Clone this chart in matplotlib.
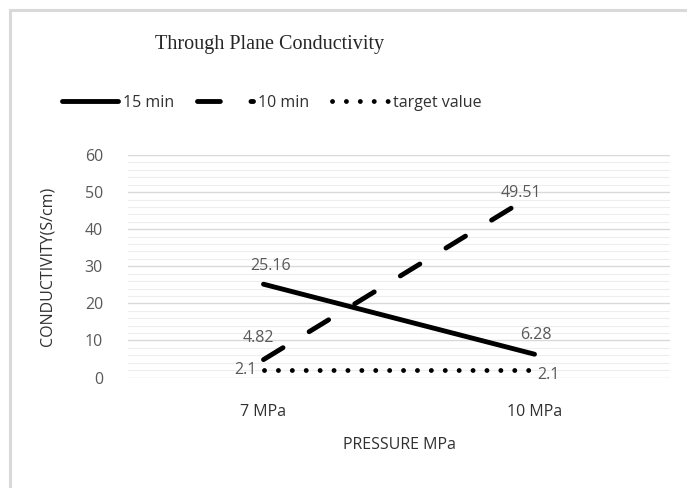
import matplotlib
matplotlib.use("Agg")
import matplotlib.pyplot as plt
from matplotlib.patches import Rectangle
import numpy as np

# Data
categories = ["7 MPa", "10 MPa"]
series_15 = [25.16, 6.28]
series_10 = [4.82, 49.51]
target = [2.1, 2.1]
series_names = ["15 min", "10 min", "target value"]

text_grey = '#595959'
text_dark = '#303030'
line_col = '#000000'

plt.rcParams.update({
    'font.family': ['Open Sans', 'DejaVu Sans'],
    'font.size': 10,
})

fig = plt.figure(figsize=(6.87, 4.88), dpi=100)
W, H = 687, 488
ax = fig.add_axes([128 / W, 1 - 377.5 / H, (670 - 128) / W, (377.5 - 155) / H])

# outer chart border
fig.patches.append(Rectangle((10 / W, -0.1), 1.2, 1 - 10 / H + 0.1, transform=fig.transFigure,
                             fill=False, edgecolor='#d9d9d9', linewidth=2.2))

xs = np.arange(len(categories))
lw = 3.5
l1, = ax.plot(xs, series_15, color=line_col, linewidth=lw, solid_capstyle='round',
              label=series_names[0], zorder=4)
l2, = ax.plot(xs, series_10, color=line_col, linewidth=lw, dash_capstyle='round',
              linestyle=(0, (4.7, 6.3)), label=series_names[1], zorder=4)
l3, = ax.plot(xs, target, color=line_col, linewidth=lw, dash_capstyle='round',
              linestyle=(0, (0.01, 2.85)), label=series_names[2], zorder=4)

ax.set_xlim(-0.5, 1.5)
ax.set_ylim(0, 60)
ax.set_yticks(np.arange(0, 61, 10))
ax.set_yticks(np.arange(0, 61, 2), minor=True)
ax.grid(True, which='major', axis='y', color='#d9d9d9', linewidth=1.0)
ax.grid(True, which='minor', axis='y', color='#eeeeee', linewidth=0.8)
ax.set_axisbelow(True)
ax.set_xticks(xs)
ax.set_xticklabels(categories)
for s in ax.spines.values():
    s.set_visible(False)
ax.tick_params(axis='both', which='both', length=0, colors=text_grey, labelsize=11.5)
ax.tick_params(axis='y', pad=18)
ax.tick_params(axis='x', pad=19, labelcolor=text_dark)

# data labels
lab_kw = dict(fontsize=11.5, color=text_grey, zorder=5)
ax.annotate(f"{series_15[0]:.2f}", (xs[0], series_15[0]), xytext=(5, 7),
            textcoords='offset points', ha='center', va='bottom', **lab_kw)
ax.annotate(f"{series_15[1]:.2f}", (xs[1], series_15[1]), xytext=(1, 8),
            textcoords='offset points', ha='center', va='bottom', **lab_kw)
ax.annotate(f"{series_10[0]:.2f}", (xs[0], series_10[0]), xytext=(-4, 10),
            textcoords='offset points', ha='center', va='bottom', **lab_kw)
ax.annotate(f"{series_10[1]:.2f}", (xs[1], series_10[1]), xytext=(-10, 1),
            textcoords='offset points', ha='center', va='center', **lab_kw)
ax.annotate(f"{target[0]:g}", (xs[0], target[0]), xytext=(-5, 0),
            textcoords='offset points', ha='right', va='center', **lab_kw)
ax.annotate(f"{target[1]:g}", (xs[1], target[1]), xytext=(2, -4),
            textcoords='offset points', ha='left', va='center', **lab_kw)

ax.set_xlabel("PRESSURE MPa", fontsize=11.5, color=text_dark, labelpad=12)
ax.set_ylabel("CONDUCTIVITY(S/cm)", fontsize=11.5, color=text_dark, labelpad=21)

fig.text(270 / W, 1 - 45 / H, "Through Plane Conductivity",
         fontsize=14.5, family='Liberation Serif', color='#262626', ha='center', va='center')

fig.legend(handles=[l1, l2, l3], loc='center', bbox_to_anchor=(272 / W, 1 - 103 / H),
           ncol=3, frameon=False, fontsize=11.5, handlelength=3.5, handletextpad=0.3,
           columnspacing=1.45, labelcolor=text_dark)

fig.savefig("out.png", dpi=100, facecolor='white')
